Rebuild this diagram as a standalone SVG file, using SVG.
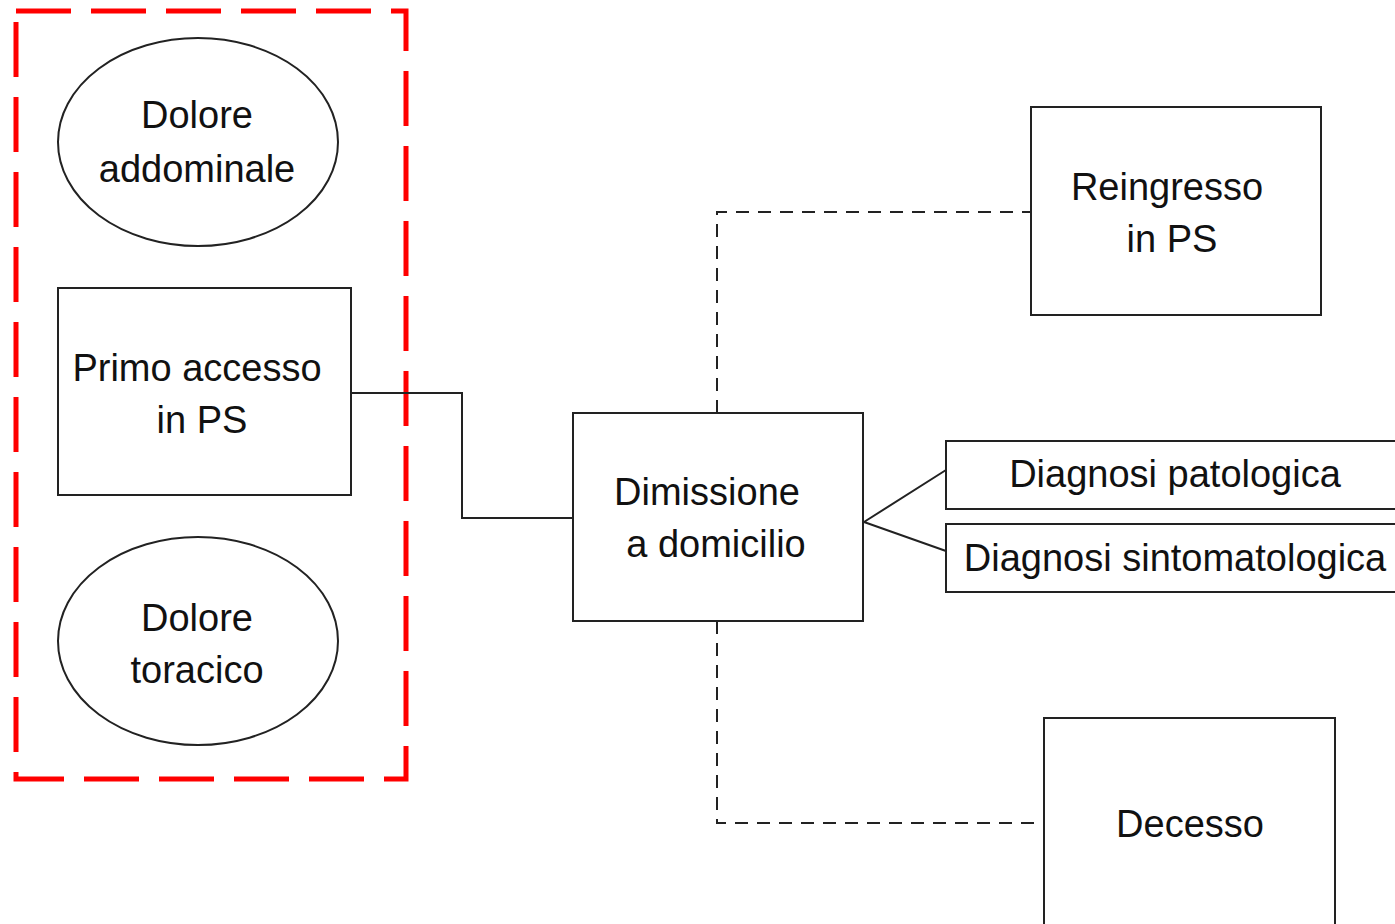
<svg xmlns="http://www.w3.org/2000/svg" width="1395" height="924" viewBox="0 0 1395 924">
<style>
.n{fill:#fff;stroke:#222;stroke-width:2}
.t{font-family:"Liberation Sans",Arial,sans-serif;font-size:38px;fill:#111;text-anchor:middle}
.c{fill:none;stroke:#222;stroke-width:2}
.d{fill:none;stroke:#222;stroke-width:2;stroke-dasharray:13 9}
</style>
<rect width="1395" height="924" fill="#fff"/>
<rect id="group" x="16" y="11" width="390" height="768" fill="none" stroke="#ff0000" stroke-width="5" stroke-dasharray="55 20"/>
<g id="connectors">
<path class="c" d="M351 393H462V518H573"/>
<path class="c" d="M864 522L946 470M864 522L946 551"/>
<path class="d" d="M717 413V212H1031"/>
<path class="d" d="M717 621V823H1044"/>
</g>
<g id="dolore-addominale">
<ellipse class="n" cx="198" cy="142" rx="140" ry="104"/>
<text class="t" x="197" y="128">Dolore</text>
<text class="t" x="197" y="182">addominale</text>
</g>
<g id="primo-accesso">
<rect class="n" x="58" y="288" width="293" height="207"/>
<text class="t" x="197" y="381">Primo accesso</text>
<text class="t" x="202" y="433">in PS</text>
</g>
<g id="dolore-toracico">
<ellipse class="n" cx="198" cy="641" rx="140" ry="104"/>
<text class="t" x="197" y="631">Dolore</text>
<text class="t" x="197" y="683">toracico</text>
</g>
<g id="dimissione">
<rect class="n" x="573" y="413" width="290" height="208"/>
<text class="t" x="707" y="505">Dimissione</text>
<text class="t" x="716" y="557">a domicilio</text>
</g>
<g id="reingresso">
<rect class="n" x="1031" y="107" width="290" height="208"/>
<text class="t" x="1167" y="200">Reingresso</text>
<text class="t" x="1172" y="252">in PS</text>
</g>
<g id="diagnosi-patologica">
<rect class="n" x="946" y="441" width="460" height="68"/>
<text class="t" x="1175" y="487">Diagnosi patologica</text>
</g>
<g id="diagnosi-sintomatologica">
<rect class="n" x="946" y="524" width="460" height="68"/>
<text class="t" x="1175" y="571">Diagnosi sintomatologica</text>
</g>
<g id="decesso">
<rect class="n" x="1044" y="718" width="291" height="220"/>
<text class="t" x="1190" y="837">Decesso</text>
</g>
</svg>
